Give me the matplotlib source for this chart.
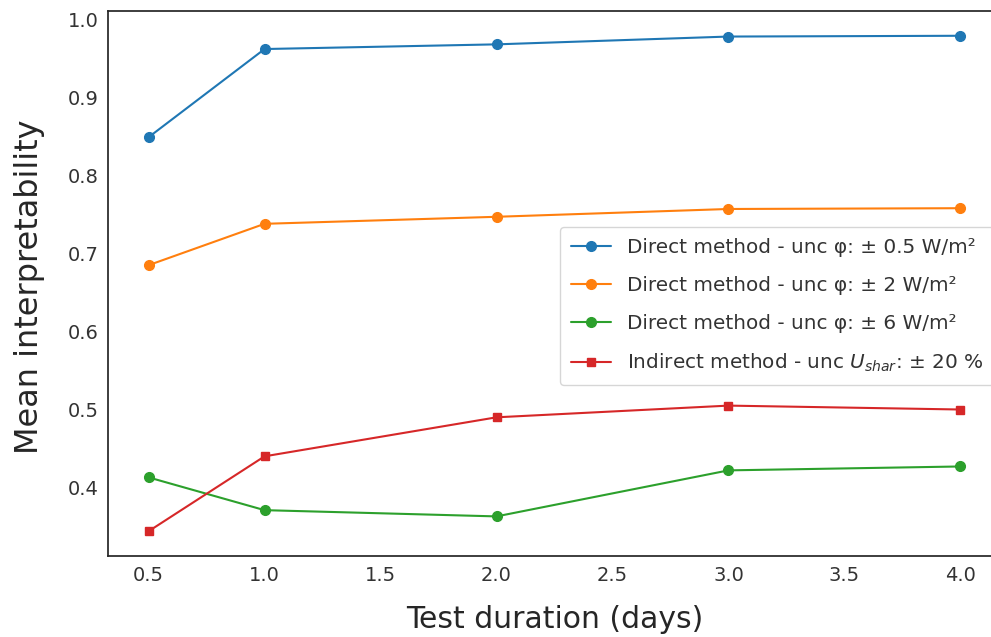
import matplotlib
matplotlib.use("Agg")
import matplotlib.pyplot as plt
import seaborn as sns

sns.set_style("white")
plt.rcParams['font.family'] = ['DejaVu Sans']

durations = [0.5, 1.0, 2.0, 3.0, 4.0]
direct_05 = [0.849, 0.962, 0.968, 0.978, 0.979]
direct_2 = [0.685, 0.738, 0.747, 0.757, 0.758]
direct_6 = [0.413, 0.371, 0.363, 0.422, 0.427]
indirect_20 = [0.344, 0.440, 0.490, 0.505, 0.500]

labels = [
    "Direct method - unc φ: ± 0.5 W/m²",
    "Direct method - unc φ: ± 2 W/m²",
    "Direct method - unc φ: ± 6 W/m²",
    "Indirect method - unc $U_{shar}$: ± 20 %",
]

W, H = 991, 637
fig = plt.figure(figsize=(W / 100, H / 100), dpi=100)
ax = fig.add_axes([108 / W, 1 - 556 / H, (1001 - 108) / W, (556 - 11) / H])

ax.plot(durations, direct_05, marker='o', color='tab:blue', lw=1.5, ms=7, label=labels[0])
ax.plot(durations, direct_2, marker='o', color='tab:orange', lw=1.5, ms=7, label=labels[1])
ax.plot(durations, direct_6, marker='o', color='tab:green', lw=1.5, ms=7, label=labels[2])
ax.plot(durations, indirect_20, marker='s', color='tab:red', lw=1.5, ms=6, label=labels[3])

ax.set_xlabel("Test duration (days)", fontsize=21.5, color='.15')
ax.set_ylabel("Mean interpretability", fontsize=23, color='.15')
ax.xaxis.set_label_coords(0.5, -0.09)
ax.yaxis.set_label_coords(-0.071, 0.495)
ax.tick_params(labelsize=14, colors='.2')
for s in ax.spines.values():
    s.set_color('.15')
    s.set_linewidth(1.25)

ax.legend(loc='upper left', bbox_to_anchor=(560 / W, 1 - 227 / H),
          bbox_transform=fig.transFigure, fontsize=14.4, frameon=True,
          borderaxespad=0, borderpad=0.55, labelspacing=0.95, labelcolor='.2')

fig.savefig("out.png", dpi=100)
